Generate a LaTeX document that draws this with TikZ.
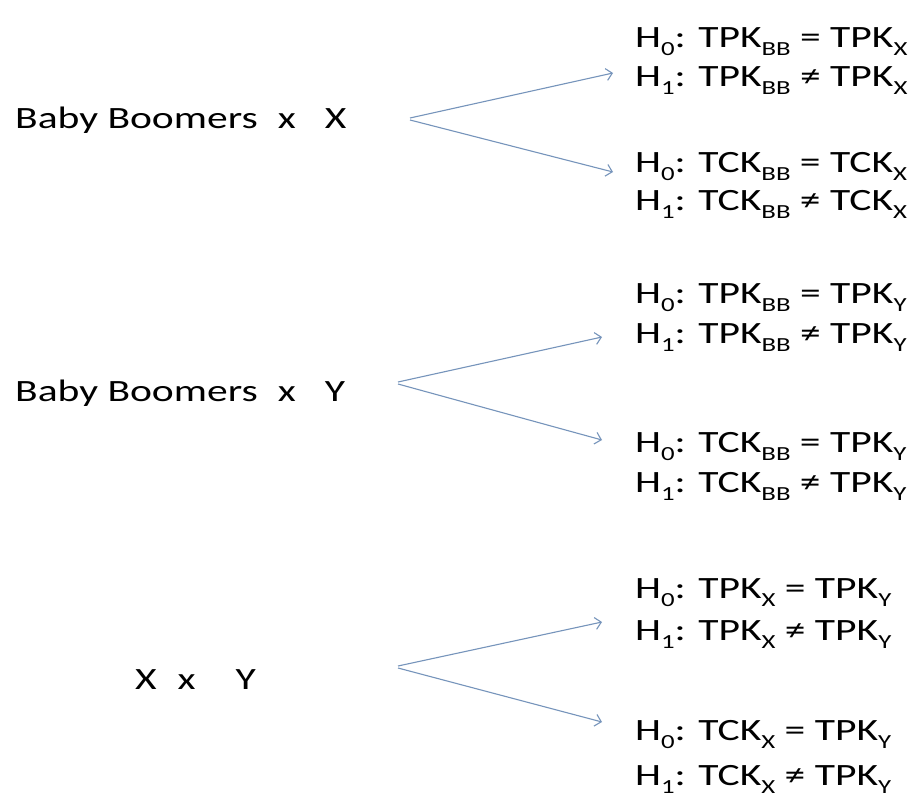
\documentclass[tikz,border=0pt]{standalone}
\usepackage{fontspec}
\setmainfont{Carlito}[FakeStretch=1.34]
\usetikzlibrary{arrows.meta}
\definecolor{linkblue}{HTML}{7694BB}
\newcommand\lowsub[1]{\raisebox{-8pt}{\fontsize{20pt}{20pt}\selectfont #1}}
\tikzset{
  hyp/.style={anchor=base west, inner sep=0pt, font=\fontsize{31pt}{33pt}\selectfont},
  pairlabel/.style={anchor=base west, inner sep=0pt, font=\fontsize{31pt}{33pt}\selectfont},
  link/.style={draw=linkblue, line width=1.1pt, -{Straight Barb[length=6pt,width=12pt]}}
}
\begin{document}
\begin{tikzpicture}[x=1pt, y=-1pt]
  \fill[white] (0,0) rectangle (923,798);
  \useasboundingbox (0,0) rectangle (923,798);

  % comparison labels
  \node[pairlabel] (g1) at (15,128) {Baby Boomers\hspace{20pt}x\hspace{29pt}X};
  \node[pairlabel] (g2) at (15,401) {Baby Boomers\hspace{20pt}x\hspace{29pt}Y};
  \node[pairlabel] (g3) at (135,689) {X\hspace{21pt}x\hspace{40pt}Y};

  % hypotheses, group 1
  \node[hyp] (h1a) at (635,47)  {H\lowsub{0}: TPK\lowsub{BB} = TPK\lowsub{X}};
  \node[hyp] (h1b) at (635,86)  {H\lowsub{1}: TPK\lowsub{BB} ≠ TPK\lowsub{X}};
  \node[hyp] (h1c) at (635,172) {H\lowsub{0}: TCK\lowsub{BB} = TCK\lowsub{X}};
  \node[hyp] (h1d) at (635,210) {H\lowsub{1}: TCK\lowsub{BB} ≠ TCK\lowsub{X}};
  % hypotheses, group 2
  \node[hyp] (h2a) at (635,303) {H\lowsub{0}: TPK\lowsub{BB} = TPK\lowsub{Y}};
  \node[hyp] (h2b) at (635,343) {H\lowsub{1}: TPK\lowsub{BB} ≠ TPK\lowsub{Y}};
  \node[hyp] (h2c) at (635,452) {H\lowsub{0}: TCK\lowsub{BB} = TPK\lowsub{Y}};
  \node[hyp] (h2d) at (635,492) {H\lowsub{1}: TCK\lowsub{BB} ≠ TPK\lowsub{Y}};
  % hypotheses, group 3
  \node[hyp] (h3a) at (635,598) {H\lowsub{0}: TPK\lowsub{X} = TPK\lowsub{Y}};
  \node[hyp] (h3b) at (635,640) {H\lowsub{1}: TPK\lowsub{X} ≠ TPK\lowsub{Y}};
  \node[hyp] (h3c) at (635,740) {H\lowsub{0}: TCK\lowsub{X} = TPK\lowsub{Y}};
  \node[hyp] (h3d) at (635,785) {H\lowsub{1}: TCK\lowsub{X} ≠ TPK\lowsub{Y}};

  % branch points and arrow tips
  \coordinate (s1) at (410,118);
  \coordinate (t1u) at (613,73);
  \coordinate (t1l) at (613,172);
  \coordinate (s2) at (398,382);
  \coordinate (t2u) at (602,337);
  \coordinate (t2l) at (602,440);
  \coordinate (s3) at (398,666);
  \coordinate (t3u) at (602,622);
  \coordinate (t3l) at (602,722);

  \draw[link] (s1) -- (t1u);
  \draw[link] ([yshift=-2pt]s1) -- (t1l);
  \draw[link] (s2) -- (t2u);
  \draw[link] ([yshift=-2pt]s2) -- (t2l);
  \draw[link] (s3) -- (t3u);
  \draw[link] ([yshift=-2pt]s3) -- (t3l);
\end{tikzpicture}
\end{document}
